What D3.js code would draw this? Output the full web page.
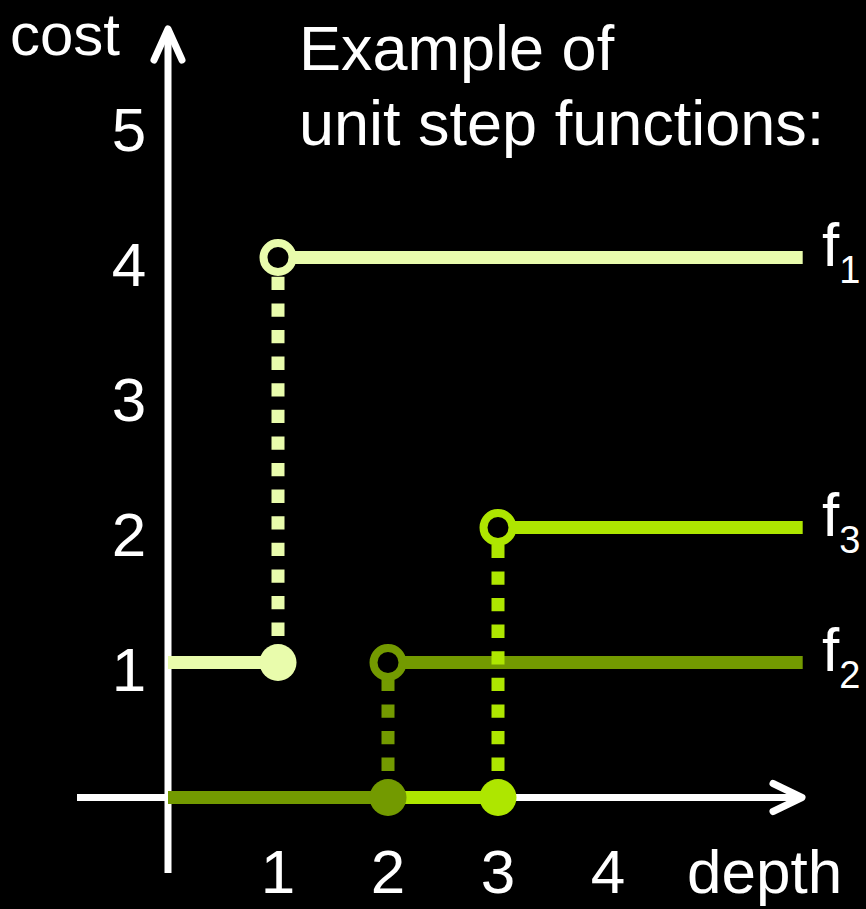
<!DOCTYPE html>
<html>
<head>
<meta charset="utf-8">
<script src="https://cdn.jsdelivr.net/npm/d3@7"></script>
<style>
  html, body { margin: 0; padding: 0; background: #000; }
  svg { display: block; }
  text { font-family: "Liberation Sans", Arial, sans-serif; fill: #fff; }
</style>
</head>
<body>
<div id="chart"></div>
<script>
// data
const depthTicks = [1, 2, 3, 4];
const costTicks = [1, 2, 3, 4, 5];
const funcNames = ["f1", "f2", "f3"];
const stepDepth = [1, 2, 3];      // where each function jumps
const lowCost = [1, 0, 0];        // value before the step
const highCost = [4, 1, 2];       // value after the step
const depthEnd = 5.77;            // lines run off to the right
const funcColors = ["#e9fcac", "#739a00", "#aee600"];

const width = 866, height = 909;

const svg = d3.select("#chart")
    .append("svg")
    .attr("width", width)
    .attr("height", height);

svg.append("rect").attr("width", width).attr("height", height).attr("fill", "#000");

const x = d3.scaleLinear().domain([0, 4]).range([168, 608]);
const y = d3.scaleLinear().domain([0, 4]).range([797.5, 257.5]);

// axes (hand drawn arrows)
const axes = svg.append("g")
    .attr("stroke", "#fff")
    .attr("stroke-width", 7)
    .attr("fill", "none")
    .attr("stroke-linecap", "round")
    .attr("stroke-linejoin", "round");

axes.append("line").attr("x1", x(0)).attr("x2", x(0)).attr("y1", 873).attr("y2", 30).attr("stroke-linecap", "butt");
axes.append("path").attr("d", `M${x(0) - 14},60 L${x(0)},29 L${x(0) + 14},60`);
axes.append("line").attr("x1", 77).attr("x2", 800).attr("y1", y(0)).attr("y2", y(0)).attr("stroke-linecap", "butt");
axes.append("path").attr("d", `M773,${y(0) - 14} L802,${y(0)} L773,${y(0) + 14}`);

// tick labels
svg.selectAll(".ytick")
    .data(costTicks)
    .enter()
    .append("text")
    .attr("class", "ytick")
    .attr("x", 129)
    .attr("y", d => y(d) + 28)
    .attr("text-anchor", "middle")
    .style("font-size", "62px")
    .text(d => d);

svg.selectAll(".xtick")
    .data(depthTicks)
    .enter()
    .append("text")
    .attr("class", "xtick")
    .attr("x", d => x(d))
    .attr("y", 893)
    .attr("text-anchor", "middle")
    .style("font-size", "62px")
    .text(d => d);

svg.append("text").attr("x", 10).attr("y", 55).style("font-size", "60px").text("cost");
svg.append("text").attr("x", 687).attr("y", 893).style("font-size", "62px").text("depth");

svg.append("text").attr("x", 299).attr("y", 70).style("font-size", "63px").text("Example of");
svg.append("text").attr("x", 299).attr("y", 145).style("font-size", "63px").text("unit step functions:");

const funcs = funcNames.map((name, i) => ({
    name: name,
    step: stepDepth[i],
    low: lowCost[i],
    high: highCost[i],
    color: funcColors[i]
}));

// horizontal pieces: f3 under f2 under f1
const drawOrder = [funcs[2], funcs[1], funcs[0]];

drawOrder.forEach(f => {
    svg.append("line")
        .attr("x1", x(0)).attr("x2", x(f.step))
        .attr("y1", y(f.low)).attr("y2", y(f.low))
        .attr("stroke", f.color).attr("stroke-width", 13);
    svg.append("line")
        .attr("x1", x(f.step)).attr("x2", x(depthEnd))
        .attr("y1", y(f.high)).attr("y2", y(f.high))
        .attr("stroke", f.color).attr("stroke-width", 13);
});

// dotted jumps
drawOrder.forEach(f => {
    svg.append("line")
        .attr("x1", x(f.step)).attr("x2", x(f.step))
        .attr("y1", y(f.low)).attr("y2", y(f.high))
        .attr("stroke", f.color).attr("stroke-width", 13)
        .attr("stroke-dasharray", "13.3,13.3");
});

// circles: filled at the low end, open at the high end
drawOrder.forEach(f => {
    svg.append("circle")
        .attr("cx", x(f.step)).attr("cy", y(f.low)).attr("r", 18.5)
        .attr("fill", f.color);
    svg.append("circle")
        .attr("cx", x(f.step)).attr("cy", y(f.high)).attr("r", 14.5)
        .attr("fill", "#000")
        .attr("stroke", f.color).attr("stroke-width", 8);
});

// function labels f1, f2, f3
const labels = svg.selectAll(".flabel")
    .data(funcs)
    .enter()
    .append("text")
    .attr("class", "flabel")
    .attr("x", 822)
    .attr("y", d => y(d.high) + 8)
    .style("font-size", "62px");

labels.append("tspan").text("f");
labels.append("tspan")
    .attr("dy", 17)
    .style("font-size", "38px")
    .text(d => d.name.slice(1));
</script>
</body>
</html>
